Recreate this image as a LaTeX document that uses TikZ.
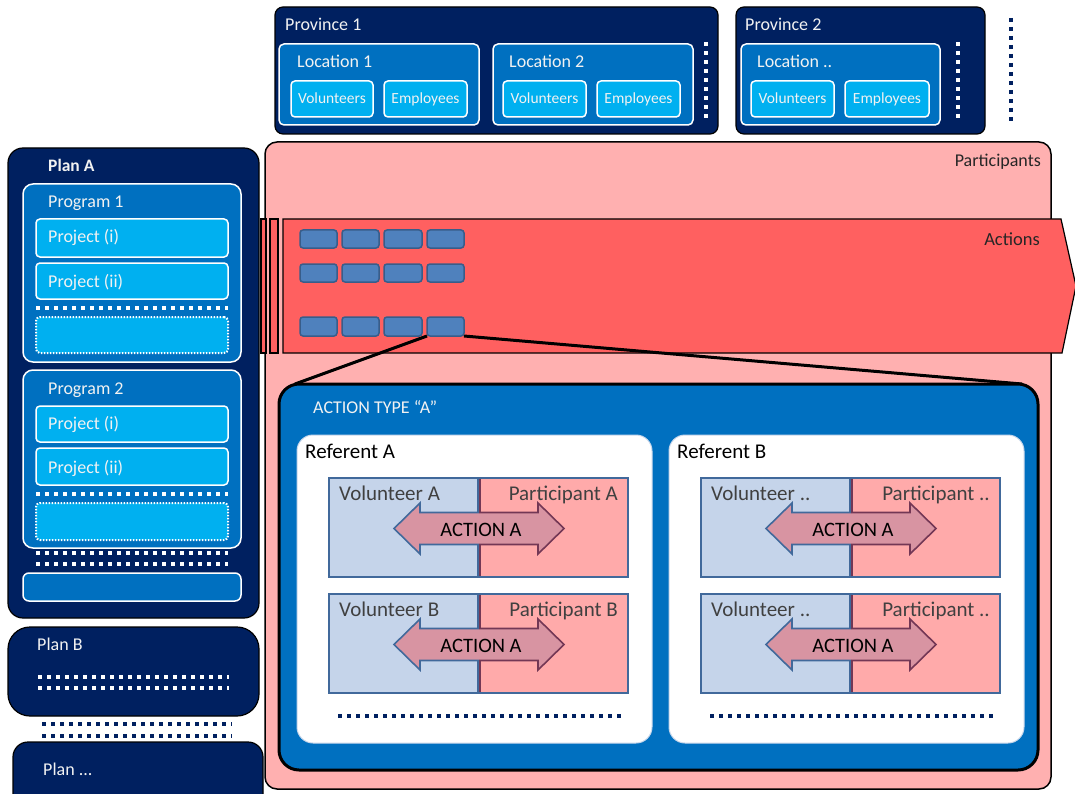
\documentclass[tikz,border=0pt]{standalone}
\usepackage{fontspec}
\setmainfont{Carlito}
\definecolor{navy}{RGB}{0,32,96}
\definecolor{midblue}{RGB}{0,112,192}
\definecolor{ltblue}{RGB}{0,176,240}
\definecolor{ppink}{RGB}{255,176,176}
\definecolor{actred}{RGB}{255,96,96}
\definecolor{chip}{RGB}{79,129,189}
\definecolor{chipedge}{RGB}{56,93,138}
\definecolor{volfill}{RGB}{197,212,234}
\definecolor{parfill}{RGB}{255,170,170}
\definecolor{edgeblue}{RGB}{65,105,155}
\definecolor{edgemar}{RGB}{115,55,85}
\definecolor{arrfill}{RGB}{216,148,162}
\definecolor{wtext}{RGB}{242,242,242}
\definecolor{dtext}{RGB}{38,38,38}
\definecolor{gtext}{RGB}{64,64,64}
\definecolor{refedge}{RGB}{200,215,235}
\newcommand\myfs[1]{\fontsize{#1}{#1}\selectfont}
% box node from corner coordinates: style, x1, y1, x2, y2, name, text
\newcommand\bx[7]{\node[inner sep=0pt,outer sep=0pt,#1,minimum width={(#4)-(#2)},minimum height={(#5)-(#3)}] (#6) at ({((#2)+(#4))/2},{((#3)+(#5))/2}) {#7};}
\newcommand\arrpath[2]{({#1-85},{#2}) -- ({#1-59},{#2-25.5}) -- ({#1-59},{#2-16}) -- ({#1+59},{#2-16}) -- ({#1+59},{#2-25.5}) -- ({#1+85},{#2}) -- ({#1+59},{#2+25.5}) -- ({#1+59},{#2+16}) -- ({#1-59},{#2+16}) -- ({#1-59},{#2+25.5}) -- cycle}
\newcommand\dbarrow[3]{%
  \fill[arrfill] \arrpath{#1}{#2};
  \begin{scope}\clip ({#1-100},{#2-40}) rectangle ({#1},{#2+40});
    \draw[edgeblue,line width=1.6pt,line join=miter] \arrpath{#1}{#2};\end{scope}
  \begin{scope}\clip ({#1},{#2-40}) rectangle ({#1+100},{#2+40});
    \draw[edgemar,line width=1.6pt,line join=miter] \arrpath{#1}{#2};\end{scope}
  \node[anchor=base,text=black,font=\myfs{20.5}] (#3) at ({#1+2},{#2+7.5}) {ACTION A};}
% one volunteer/participant pair: offset, top, name, volunteer text, participant text
\newcommand\pairrow[5]{%
  \bx{vbox}{329+#1}{#2}{478+#1}{#2+99}{v#3}{}
  \bx{pbox}{478+#1}{#2}{628+#1}{#2+99}{p#3}{}
  \draw[edgemar,line width=2pt] ({480+#1},{#2+1}) -- ({480+#1},{#2+98});
  \node[glbl] (tv#3) at ({339+#1},{#2+22}) {#4};
  \node[glbl,anchor=base east] (tp#3) at ({618+#1},{#2+22}) {#5};
  \dbarrow{479+#1}{#2+50.5}{ac#3}}
\begin{document}
\begin{tikzpicture}[x=1pt,y=-1pt,
  navyb/.style={fill=navy,draw=black,line width=1.2pt,rounded corners=8pt},
  locb/.style={fill=midblue,draw=white,line width=1.5pt,rounded corners=5pt},
  progb/.style={fill=midblue,draw=white,line width=1.5pt,rounded corners=10pt},
  smallb/.style={fill=ltblue,draw=white,line width=1.5pt,rounded corners=4pt,text=wtext,font=\myfs{15.5},text height=9.8pt,text depth=0pt},
  projb/.style={fill=ltblue,draw=white,line width=1.5pt,rounded corners=4pt},
  dotb/.style={fill=ltblue,draw=white,line width=2pt,dash pattern=on 1.5pt off 1.5pt,rounded corners=4pt},
  wlbl/.style={anchor=base west,inner sep=0pt,text=wtext,font=\myfs{18}},
  dlbl/.style={anchor=base west,inner sep=0pt,text=dtext,font=\myfs{18}},
  glbl/.style={anchor=base west,inner sep=0pt,text=gtext,font=\myfs{21}},
  wdots/.style={draw=white,line width=4pt,dash pattern=on 4pt off 5pt},
  ndots/.style={draw=navy,line width=4pt,dash pattern=on 4pt off 5pt},
  partb/.style={fill=ppink,draw=black,line width=1.5pt,rounded corners=12pt},
  chipb/.style={fill=chip,draw=chipedge,line width=1.5pt,rounded corners=3pt},
  zline/.style={draw=black,line width=3pt},
  atb/.style={fill=midblue,draw=black,line width=3pt,rounded corners=20pt},
  refb/.style={fill=white,draw=refedge,line width=1pt,rounded corners=16pt},
  vbox/.style={fill=volfill,draw=edgeblue,line width=1.5pt},
  pbox/.style={fill=parfill,draw=edgeblue,line width=1.5pt}
]
\useasboundingbox (0,0) rectangle (1075,794);
\fill[white] (0,0) rectangle (1075,794);

% ---------- Provinces ----------
\bx{navyb}{275}{7}{718}{134}{prov1}{}
\node[wlbl] (tprov1) at (285,31) {Province 1};
\bx{locb}{279}{44}{479}{125}{loc1}{}
\node[wlbl] (tloc1) at (297,68) {Location 1};
\bx{smallb}{291}{81}{373}{117}{vol1}{Volunteers}
\bx{smallb}{384}{81}{467}{117}{emp1}{Employees}
\bx{locb}{493}{44}{693}{125}{loc2}{}
\node[wlbl] (tloc2) at (509,68) {Location 2};
\bx{smallb}{503}{81}{586}{117}{vol2}{Volunteers}
\bx{smallb}{597}{81}{680}{117}{emp2}{Employees}
\draw[wdots] (706,42) -- (706,119);

\bx{navyb}{736}{7}{985}{134}{prov2}{}
\node[wlbl] (tprov2) at (745,31) {Province 2};
\bx{locb}{741}{44}{940}{125}{loc3}{}
\node[wlbl] (tloc3) at (757,68) {Location ..};
\bx{smallb}{751}{81}{834}{117}{vol3}{Volunteers}
\bx{smallb}{845}{81}{929}{117}{emp3}{Employees}
\draw[wdots] (958,42) -- (958,119);
\draw[ndots] (1011,18) -- (1011,122);

% ---------- Plans ----------
\bx{navyb,rounded corners=15pt}{8}{148}{259}{618}{planA}{}
\node[wlbl,font=\myfs{17.5}\bfseries] (tplanA) at (48,172) {Plan A};
\bx{progb}{23}{184}{241}{362}{prog1}{}
\node[wlbl] (tprog1) at (48,208) {Program 1};
\bx{projb}{36}{219}{228}{257}{pr11}{}
\node[wlbl] (tpr11) at (48,243) {Project (i)};
\bx{projb}{36}{263}{228}{299}{pr12}{}
\node[wlbl] (tpr12) at (48,287) {Project (ii)};
\draw[wdots] (36,308) -- (228,308);
\bx{dotb}{36}{317}{228}{353}{pr13}{}

\bx{progb}{23}{370}{241}{548}{prog2}{}
\node[wlbl] (tprog2) at (48,394) {Program 2};
\bx{projb}{36}{406}{228}{442}{pr21}{}
\node[wlbl] (tpr21) at (48,429) {Project (i)};
\bx{projb}{36}{448}{228}{485}{pr22}{}
\node[wlbl] (tpr22) at (48,473) {Project (ii)};
\draw[wdots] (36,494) -- (228,494);
\bx{dotb}{36}{503}{228}{540}{pr23}{}

\draw[wdots] (36,553) -- (228,553);
\draw[wdots] (36,564) -- (228,564);
\bx{progb,rounded corners=6pt}{23}{573}{241}{601}{prog3}{}

\bx{navyb,rounded corners=22pt}{8}{627}{259}{716}{planB}{}
\node[wlbl] (tplanB) at (37,650) {Plan B};
\draw[wdots] (38,677) -- (229,677);
\draw[wdots] (38,688) -- (229,688);
\draw[ndots] (42,724) -- (232,724);
\draw[ndots] (42,736) -- (232,736);
\bx{navyb,rounded corners=15pt}{13}{742}{263}{812}{planC}{}
\node[wlbl] (tplanC) at (43,775) {Plan ...};

% ---------- Participants ----------
\bx{partb}{265}{142}{1051}{789}{part}{}
\node[dlbl,anchor=base east] (tpart) at (1041,167) {Participants};

\draw[fill=actred,line width=1.2pt] (261,219) rectangle (266,353);
\draw[fill=actred,line width=1.2pt] (270,219) rectangle (278,353);
\draw[fill=actred,line width=1.2pt] (283,219) -- (1061,219) -- (1076,286) -- (1062,353) -- (283,353) -- cycle;
\node[dlbl,anchor=base east,font=\myfs{18.5}] (tact) at (1040,245) {Actions};

\foreach \c/\xa/\xb in {1/300/337,2/342/379,3/384/422,4/427/464}{
  \foreach \r/\ya/\yb in {1/230/248,2/264/282,3/317/336}{
    \bx{chipb}{\xa}{\ya}{\xb}{\yb}{ch\r\c}{}
  }}

\coordinate (zl) at (295,384);
\coordinate (zr) at (1022,384);
\draw[zline] (ch34.south west) -- (zl);
\draw[zline] (ch34.south east) -- (zr);

% ---------- Action type ----------
\bx{atb}{279}{384}{1038}{770}{atype}{}
\node[wlbl] (tatype) at (313,413) {ACTION TYPE “A”};

\bx{refb}{297}{435}{652}{743}{refA}{}
\node[glbl,text=black] (trefA) at (305,458) {Referent A};
\pairrow{0}{478}{A1}{Volunteer A}{Participant A}
\pairrow{0}{594}{A2}{Volunteer B}{Participant B}
\draw[ndots,line width=3.5pt] (338,716) -- (625,716);

\bx{refb}{669}{435}{1024}{743}{refB}{}
\node[glbl,text=black] (trefB) at (677,458) {Referent B};
\pairrow{372}{478}{B1}{Volunteer ..}{Participant ..}
\pairrow{372}{594}{B2}{Volunteer ..}{Participant ..}
\draw[ndots,line width=3.5pt] (710,716) -- (997,716);
\end{tikzpicture}
\end{document}
